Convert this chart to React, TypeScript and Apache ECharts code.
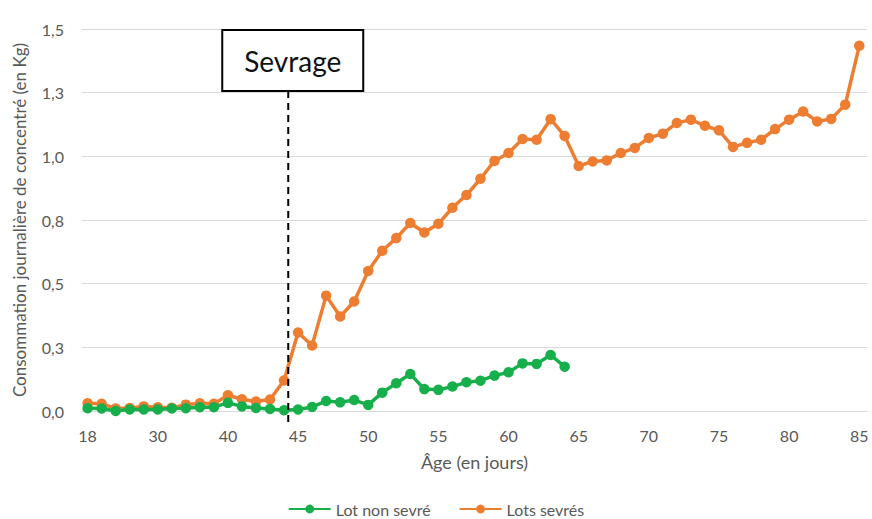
import React, { useEffect, useRef } from "react";
import * as echarts from "echarts";

// Category positions (index) and their ages (days)
const ages: number[] = [
  18, 20, 23, 25, 28, 30, 32, 34, 36, 38, 40,
  41, 42, 43, 44, 45, 46, 47, 48, 49, 50,
  51, 52, 53, 54, 55, 56, 57, 58, 59, 60,
  61, 62, 63, 64, 65, 66, 67, 68, 69, 70,
  71, 72, 73, 74, 75, 76, 77, 78, 79, 80,
  81, 82, 83, 84, 85,
];

const labelPositions: number[] = [0, 5, 10, 15, 20, 25, 30, 35, 40, 45, 50, 55];

const lotNonSevre: number[] = [
  0.011, 0.01, 0.0, 0.006, 0.006, 0.006, 0.01, 0.011, 0.015, 0.015, 0.032,
  0.018, 0.012, 0.008, 0.003, 0.006, 0.016, 0.039, 0.034, 0.043, 0.024,
  0.072, 0.109, 0.145, 0.086, 0.083, 0.096, 0.113, 0.119, 0.139, 0.152,
  0.187, 0.185, 0.22, 0.174,
];

const lotsSevres: number[] = [
  0.03, 0.028, 0.01, 0.012, 0.018, 0.015, 0.013, 0.025, 0.03, 0.028, 0.062,
  0.046, 0.037, 0.045, 0.12, 0.308, 0.257, 0.453, 0.371, 0.43, 0.55,
  0.629, 0.679, 0.738, 0.701, 0.735, 0.798, 0.848, 0.912, 0.982, 1.013,
  1.068, 1.065, 1.146, 1.08, 0.962, 0.98, 0.984, 1.013, 1.033, 1.072,
  1.089, 1.131, 1.144, 1.12, 1.102, 1.037, 1.053, 1.065, 1.107, 1.144,
  1.176, 1.137, 1.147, 1.203, 1.434,
];

const yTicks: number[] = [0, 0.25, 0.5, 0.75, 1.0, 1.25, 1.5];
const sevragePosition = 14.3; // between 44 and 45 days
const sevrageLabel = "Sevrage";

const FONT = "Lato, 'Open Sans', sans-serif";
const GREEN = "#17AF4B";
const ORANGE = "#ED7D31";

export default function App() {
  const ref = useRef<HTMLDivElement>(null);

  useEffect(() => {
    document.body.style.margin = "0";
    if (!ref.current) return;
    const chart = echarts.init(ref.current, undefined, { renderer: "svg" });
    const option: any = {
      animation: false,
      textStyle: { fontFamily: FONT },
      grid: { left: 82, right: 5, top: 29, bottom: 108, containLabel: false },
      xAxis: {
        type: "value",
        min: -0.4,
        max: 55.55,
        name: "Âge (en jours)",
        nameLocation: "middle",
        nameGap: 42,
        nameTextStyle: { color: "#595959", fontSize: 18, fontFamily: FONT },
        axisLine: { show: true, lineStyle: { color: "#D9D9D9", width: 1 } },
        axisTick: { show: false },
        splitLine: { show: false },
        axisLabel: {
          customValues: labelPositions,
          formatter: (v: number) => String(ages[Math.round(v)]),
          color: "#595959",
          fontSize: 16,
          margin: 16,
          fontFamily: FONT,
        },
      },
      yAxis: {
        type: "value",
        min: 0,
        max: 1.5,
        interval: 0.25,
        name: "Consommation journalière de concentré (en Kg)",
        nameLocation: "middle",
        nameGap: 54,
        nameTextStyle: { color: "#595959", fontSize: 17, fontFamily: FONT },
        axisLine: { show: false },
        axisTick: { show: false },
        splitLine: { show: true, lineStyle: { color: "#D9D9D9", width: 1 } },
        axisLabel: {
          formatter: (v: number) =>
            yTicks.includes(v) ? v.toFixed(1).replace(".", ",") : "",
          color: "#595959",
          fontSize: 16,
          margin: 18,
          fontFamily: FONT,
        },
      },
      legend: {
        bottom: 0,
        left: "center",
        padding: [2, 5, 2, 5],
        itemWidth: 42,
        itemHeight: 11,
        itemGap: 28,
        textStyle: { color: "#595959", fontSize: 16, fontFamily: FONT },
        data: ["Lot non sevré", "Lots sevrés"],
      },
      series: [
        {
          name: "Lot non sevré",
          type: "line",
          data: lotNonSevre.map((v, i) => [i, v]),
          symbol: "circle",
          symbolSize: 10.5,
          lineStyle: { color: GREEN, width: 3.5 },
          itemStyle: { color: GREEN },
          z: 3,
        },
        {
          name: "Lots sevrés",
          type: "line",
          data: lotsSevres.map((v, i) => [i, v]),
          symbol: "circle",
          symbolSize: 10.5,
          lineStyle: { color: ORANGE, width: 3.5 },
          itemStyle: { color: ORANGE },
          z: 2,
        },
      ],
    };
    chart.setOption(option);

    const lx = chart.convertToPixel({ xAxisIndex: 0 }, sevragePosition) as number;
    const yTop = chart.convertToPixel({ yAxisIndex: 0 }, 1.5) as number;
    const y0 = chart.convertToPixel({ yAxisIndex: 0 }, 0) as number;
    const boxLeft = lx - 66;
    const boxW = 141;
    const boxTop = yTop + 1;
    const boxH = 61;
    chart.setOption({
      graphic: [
        {
          type: "line",
          shape: { x1: lx, y1: boxTop + boxH, x2: lx, y2: y0 + 14 },
          style: { stroke: "#000", lineWidth: 2, lineDash: [7, 5] },
          z: 10,
        },
        {
          type: "rect",
          shape: { x: boxLeft, y: boxTop, width: boxW, height: boxH },
          style: { fill: "#fff", stroke: "#000", lineWidth: 2 },
          z: 11,
        },
        {
          type: "text",
          x: boxLeft + boxW / 2,
          y: boxTop + boxH / 2,
          style: {
            text: sevrageLabel,
            fontSize: 28,
            fontFamily: FONT,
            fill: "#111",
            align: "center",
            verticalAlign: "middle",
          },
          z: 12,
        },
      ],
    });

    return () => chart.dispose();
  }, []);

  return <div ref={ref} style={{ width: 872, height: 519 }} />;
}
